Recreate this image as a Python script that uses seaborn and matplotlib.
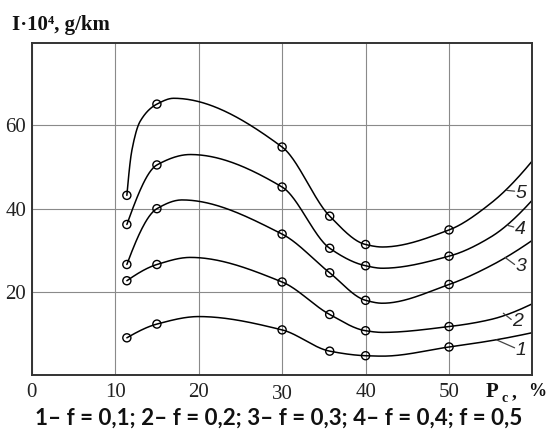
import numpy as np
import pandas as pd
import seaborn as sns
import matplotlib
matplotlib.use("Agg")
import matplotlib.pyplot as plt

# ---------------- data ----------------
P_points = [11.4, 15, 30, 35.7, 40, 50]          # P_c, % (measured points)
I_f1 = [9.0, 12.3, 10.9, 5.8, 4.7, 6.8]           # f = 0.1
I_f2 = [22.7, 26.6, 22.4, 14.6, 10.7, 11.7]       # f = 0.2
I_f3 = [26.6, 40.0, 33.9, 24.6, 18.0, 21.8]       # f = 0.3
I_f4 = [36.2, 50.5, 45.2, 30.5, 26.3, 28.6]       # f = 0.4
I_f5 = [43.2, 65.1, 54.8, 38.2, 31.4, 34.9]       # f = 0.5

# additional points (peaks, minima, right part)
extra_x_f1 = [20, 42, 55, 59.9]
extra_y_f1 = [14.1, 4.6, 8.3, 10.2]
extra_x_f2 = [19, 42, 55, 59.9]
extra_y_f2 = [28.3, 10.3, 13.4, 17.1]
extra_x_f3 = [18, 42, 55, 59.9]
extra_y_f3 = [42.1, 17.3, 26.3, 32.3]
extra_x_f4 = [19, 42, 55, 59.9]
extra_y_f4 = [53.0, 25.7, 33.2, 41.9]
extra_x_f5 = [12, 13, 17, 42, 55, 59.9]
extra_y_f5 = [54.0, 61.0, 66.5, 30.8, 41.3, 51.3]

curve_labels = ["1", "2", "3", "4", "5"]
label_x = [58.6, 58.2, 58.6, 58.5, 58.6]
label_y = [6.0, 12.8, 26.0, 35.0, 43.6]
leader_x = [55.7, 56.5, 56.7, 57.0, 56.9]
leader_y = [8.5, 14.9, 28.3, 36.0, 44.4]

x_ticks = [0, 10, 20, 30, 40, 50]
y_ticks = [20, 40, 60]

y_title = "I\u00b710\u2074, g/km"
caption = "1\u2013 f = 0,1; 2\u2013 f = 0,2; 3\u2013 f = 0,3; 4\u2013 f = 0,4; f = 0,5"

series_y = [I_f1, I_f2, I_f3, I_f4, I_f5]
extras = [(extra_x_f1, extra_y_f1), (extra_x_f2, extra_y_f2), (extra_x_f3, extra_y_f3),
          (extra_x_f4, extra_y_f4), (extra_x_f5, extra_y_f5)]


def pchip(x, y, xs):
    x = np.asarray(x, float); y = np.asarray(y, float)
    n = len(x)
    h = np.diff(x); d = np.diff(y) / h
    m = np.zeros(n)
    for k in range(1, n - 1):
        if d[k - 1] * d[k] <= 0:
            m[k] = 0.0
        else:
            w1 = 2 * h[k] + h[k - 1]; w2 = h[k] + 2 * h[k - 1]
            m[k] = (w1 + w2) / (w1 / d[k - 1] + w2 / d[k])

    def endm(h0, h1, d0, d1):
        mm = ((2 * h0 + h1) * d0 - h0 * d1) / (h0 + h1)
        if np.sign(mm) != np.sign(d0):
            mm = 0.0
        elif np.sign(d0) != np.sign(d1) and abs(mm) > abs(3 * d0):
            mm = 3 * d0
        return mm
    m[0] = endm(h[0], h[1], d[0], d[1])
    m[-1] = endm(h[-1], h[-2], d[-1], d[-2])
    idx = np.clip(np.searchsorted(x, xs) - 1, 0, n - 2)
    t = (xs - x[idx]) / h[idx]
    h00 = 2 * t**3 - 3 * t**2 + 1
    h10 = t**3 - 2 * t**2 + t
    h01 = -2 * t**3 + 3 * t**2
    h11 = t**3 - t**2
    return h00 * y[idx] + h10 * h[idx] * m[idx] + h01 * y[idx + 1] + h11 * h[idx] * m[idx + 1]


# ---------------- figure ----------------
sns.set_theme(style="white")
plt.rcParams["font.family"] = ["Liberation Serif", "DejaVu Serif"]

W, H = 553, 436
fig = plt.figure(figsize=(W / 100, H / 100), dpi=100)
ax = fig.add_axes([31.7 / W, 1 - 375.3 / H, (531.7 - 31.7) / W, (375.3 - 43.3) / H])

for ys, (ex, ey) in zip(series_y, extras):
    ax_x = np.array(list(P_points) + list(ex), float)
    ax_y = np.array(list(ys) + list(ey), float)
    order = np.argsort(ax_x)
    ax_x, ax_y = ax_x[order], ax_y[order]
    xs = np.linspace(ax_x[0], ax_x[-1], 400)
    df = pd.DataFrame({"P": xs, "I": pchip(ax_x, ax_y, xs)})
    sns.lineplot(data=df, x="P", y="I", ax=ax, color="black", linewidth=1.1, sort=False)
    dm = pd.DataFrame({"P": P_points, "I": ys})
    sns.scatterplot(data=dm, x="P", y="I", ax=ax, marker="o", s=34,
                    facecolors="none", edgecolors="black", linewidths=1.0, zorder=5)

# curve number labels with short leader lines
for lab, lx, ly, qx, qy in zip(curve_labels, label_x, label_y, leader_x, leader_y):
    ax.plot([qx, lx - 0.75], [qy, ly + 0.6], color="#444444", lw=0.9, zorder=4)
    ax.text(lx, ly, lab, fontsize=14, fontstyle="italic", family=["Liberation Sans"],
            ha="center", va="center", color="#222222")

ax.set_xlim(0, 59.9)
ax.set_ylim(0, 79.7)
ax.set_xticks(x_ticks)
ax.set_yticks(y_ticks)
ax.set_xticklabels([str(v) for v in x_ticks])
ax.set_yticklabels([str(v) for v in y_ticks])
ax.set_xlabel(""); ax.set_ylabel("")
ax.grid(True, color="#8a8a8a", linewidth=0.8)
ax.set_axisbelow(True)
for s in ax.spines.values():
    s.set_color("#333333"); s.set_linewidth(1.4)
ax.tick_params(axis="x", direction="in", length=9, width=1.0, color="#333333",
               labelsize=15, pad=5.5, labelcolor="#222222")
ax.tick_params(axis="y", direction="in", length=9, width=1.0, color="#333333",
               labelsize=15, pad=4, labelcolor="#222222")
ax.xaxis.get_major_ticks()[3].set_pad(7)

# axis titles
fig.text(12 / W, 1 - 30 / H, y_title, fontsize=15, fontweight="bold",
         ha="left", va="baseline", color="#111111")
fig.text(486 / W, 1 - 397 / H, "P", fontsize=15, fontweight="bold",
         ha="left", va="baseline", color="#111111")
fig.text(502 / W, 1 - 402 / H, "c", fontsize=10, fontweight="bold",
         ha="left", va="baseline", color="#111111")
fig.text(512 / W, 1 - 397 / H, ",", fontsize=14, fontweight="bold",
         ha="left", va="baseline", color="#111111")
fig.text(528 / W, 1 - 396 / H, "%", fontsize=13, fontweight="bold",
         ha="left", va="baseline", color="#111111")

cap = fig.text(279 / W, 1 - 418 / H, caption, fontsize=15, fontweight="bold",
               family=["Lato", "DejaVu Sans"], ha="center", va="center", color="#111111")
fig.canvas.draw()
bb = cap.get_window_extent()
cap.set_fontsize(15 * 488 / bb.width)

fig.savefig("out.png", dpi=100)
